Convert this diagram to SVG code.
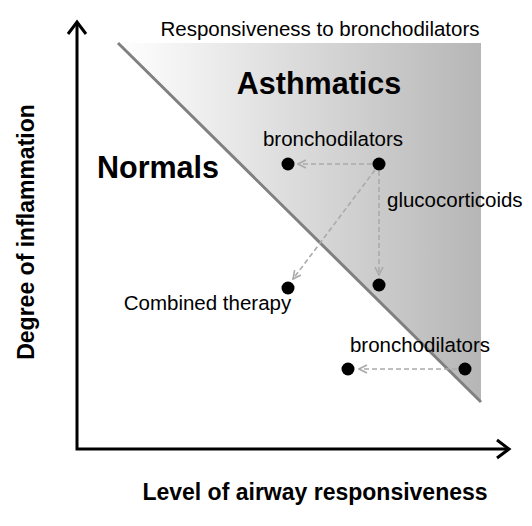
<svg xmlns="http://www.w3.org/2000/svg" width="532" height="526" viewBox="0 0 532 526">
<defs>
<linearGradient id="shade" x1="118" y1="0" x2="481" y2="0" gradientUnits="userSpaceOnUse">
<stop offset="0" stop-color="#ffffff"/>
<stop offset="1" stop-color="#b6b6b6"/>
</linearGradient>
<marker id="dash-head" viewBox="0 0 10 10" refX="9" refY="5" markerWidth="10" markerHeight="10" markerUnits="userSpaceOnUse" orient="auto">
<path d="M1,1 L9,5 L1,9" fill="none" stroke="#aaaaaa" stroke-width="1.6"/>
</marker>
</defs>
<style>
text { font-family: "Liberation Sans", Arial, sans-serif; fill: #000; }
.lbl { font-size: 20.5px; }
.big { font-size: 30.5px; font-weight: bold; }
.axis-t { font-size: 23px; font-weight: bold; }
.axis { stroke: #000; stroke-width: 3; fill: none; }
.dot { fill: #000; }
.dash { stroke: #aaaaaa; stroke-width: 1.6; stroke-dasharray: 5 3; fill: none; marker-end: url(#dash-head); }
</style>
<g id="region">
<polygon points="118,43 481,43 481,402" fill="url(#shade)"/>
<line x1="118" y1="43" x2="481" y2="402" stroke="#808080" stroke-width="3"/>
</g>
<g id="axes">
<polyline class="axis" points="77,22 77,449 509,449"/>
<polyline class="axis" points="68,34 77,22 86,34"/>
<polyline class="axis" points="497,440 509,449 497,458"/>
</g>
<g id="labels">
<text class="lbl" x="320" y="36" text-anchor="middle">Responsiveness to bronchodilators</text>
<text class="big" x="319" y="94" text-anchor="middle">Asthmatics</text>
<text class="big" x="158" y="178" text-anchor="middle">Normals</text>
<text class="axis-t" x="315" y="500" text-anchor="middle">Level of airway responsiveness</text>
<text class="axis-t" transform="translate(34,232) rotate(-90)" text-anchor="middle">Degree of inflammation</text>
</g>
<g id="connectors">
<line class="dash" x1="372" y1="164" x2="298" y2="164"/>
<line class="dash" x1="379" y1="171" x2="379" y2="275"/>
<line class="dash" x1="375" y1="170" x2="293" y2="279"/>
<line class="dash" x1="457" y1="369" x2="359" y2="369"/>
</g>
<g id="n1"><circle class="dot" cx="288" cy="164" r="6.5"/></g>
<g id="n2"><circle class="dot" cx="379" cy="164" r="6.5"/><text class="lbl" x="333" y="146" text-anchor="middle">bronchodilators</text></g>
<g id="n3"><circle class="dot" cx="379" cy="285" r="6.5"/><text class="lbl" x="387" y="207">glucocorticoids</text></g>
<g id="n4"><circle class="dot" cx="288" cy="288" r="6.5"/><text class="lbl" x="207.5" y="310" text-anchor="middle">Combined therapy</text></g>
<g id="n5"><circle class="dot" cx="348" cy="369" r="6.5"/></g>
<g id="n6"><circle class="dot" cx="465" cy="369" r="6.5"/><text class="lbl" x="420" y="352" text-anchor="middle">bronchodilators</text></g>
</svg>
